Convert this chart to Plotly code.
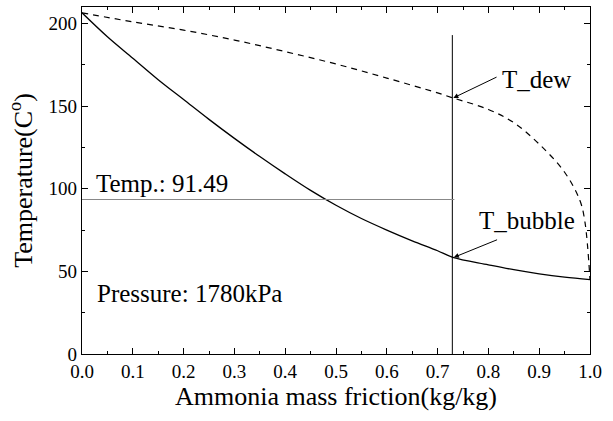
import plotly.graph_objects as go

x_bubble = [0.0, 0.05, 0.1, 0.15, 0.2, 0.25, 0.3, 0.35, 0.4, 0.45, 0.5, 0.55, 0.6, 0.65, 0.7, 0.73, 0.8, 0.85, 0.9, 0.95, 1.0]
t_bubble = [206.5, 192.0, 179.0, 166.0, 154.0, 142.0, 130.5, 119.5, 109.0, 99.0, 90.0, 82.0, 75.0, 68.5, 62.5, 58.5, 54.0, 51.0, 48.5, 46.5, 45.0]

x_dew = [0.0, 0.1, 0.2, 0.3, 0.4, 0.5, 0.6, 0.7, 0.73, 0.8, 0.85, 0.9, 0.95, 0.98, 0.99, 1.0]
t_dew = [206.5, 201.0, 196.0, 190.0, 183.0, 175.5, 167.0, 158.0, 155.0, 148.0, 140.0, 127.0, 110.0, 93.0, 80.0, 45.0]

x_sel = 0.729
t_sel = 93.5
t_sel_top = 193.0
t_dew_sel = 155.0
t_bub_sel = 58.5

FONT = "Liberation Serif"

fig = go.Figure()
fig.add_trace(go.Scatter(x=x_bubble, y=t_bubble, mode="lines", line=dict(color="black", width=1.3, shape="spline"), showlegend=False))
fig.add_trace(go.Scatter(x=x_dew, y=t_dew, mode="lines", line=dict(color="black", width=1.2, dash="6px,5px", shape="spline"), showlegend=False))
fig.add_trace(go.Scatter(x=[x_sel, x_sel], y=[0, t_sel_top], mode="lines", line=dict(color="black", width=1), showlegend=False))
fig.add_trace(go.Scatter(x=[0, x_sel + 0.004], y=[t_sel, t_sel], mode="lines", line=dict(color="#888888", width=1.2), showlegend=False))

ann_font = dict(family=FONT, size=25, color="black")

# arrows
fig.add_annotation(x=x_sel + 0.002, y=t_dew_sel, xref="x", yref="y", text="", showarrow=True,
                   arrowhead=2, arrowsize=1, arrowwidth=1, arrowcolor="black",
                   ax=0.819, ay=168, axref="x", ayref="y", standoff=0)
fig.add_annotation(x=x_sel + 0.003, y=t_bub_sel, xref="x", yref="y", text="", showarrow=True,
                   arrowhead=2, arrowsize=1, arrowwidth=1, arrowcolor="black",
                   ax=0.82, ay=69.5, axref="x", ayref="y", standoff=0)

# texts
fig.add_annotation(x=0.822, y=166, xref="x", yref="y", text="T_dew", showarrow=False,
                   xanchor="left", yanchor="middle", font=ann_font)
fig.add_annotation(x=0.778, y=81, xref="x", yref="y", text="T_bubble", showarrow=False,
                   xanchor="left", yanchor="middle", font=ann_font)
fig.add_annotation(x=0.024, y=103, xref="x", yref="y", text="Temp.: 91.49", showarrow=False,
                   xanchor="left", yanchor="middle", font=ann_font)
fig.add_annotation(x=0.026, y=36.5, xref="x", yref="y", text="Pressure: 1780kPa", showarrow=False,
                   xanchor="left", yanchor="middle", font=ann_font)

axis_common = dict(showline=True, linecolor="black", linewidth=1.3, mirror="ticks", ticks="inside",
                   ticklen=6, tickwidth=1.2, tickcolor="black", showgrid=False, zeroline=False,
                   tickfont=dict(family=FONT, size=19, color="black"))

fig.update_xaxes(range=[0, 1.0], tick0=0, dtick=0.1, tickformat=".1f",
                 minor=dict(ticks="inside", ticklen=3, dtick=0.05, tickcolor="black", tickwidth=1),
                 title=dict(text="Ammonia mass friction(kg/kg)", font=dict(family=FONT, size=26, color="black"), standoff=5),
                 **axis_common)
fig.update_yaxes(range=[0, 210], tick0=0, dtick=50,
                 minor=dict(ticks="inside", ticklen=3, dtick=25, tickcolor="black", tickwidth=1),
                 title=dict(text="Temperature(C<sup>o</sup>)", font=dict(family=FONT, size=26, color="black"), standoff=8),
                 **axis_common)

fig.update_layout(width=613, height=421, margin=dict(l=82, r=23, t=7, b=67, autoexpand=False),
                  plot_bgcolor="white", paper_bgcolor="white", showlegend=False)

fig.write_html("out.html", config={"displayModeBar": False},
               post_script="document.body.style.margin='0';document.body.style.overflow='hidden';")
